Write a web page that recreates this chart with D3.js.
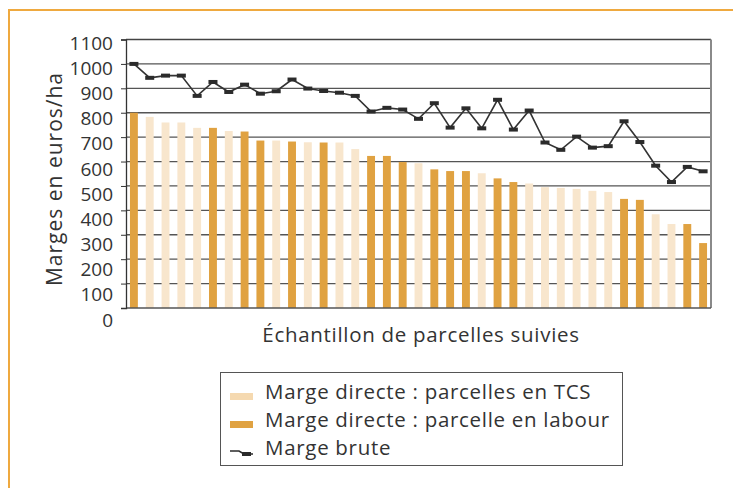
<!DOCTYPE html>
<html>
<head>
<meta charset="utf-8">
<script src="https://cdn.jsdelivr.net/npm/d3@7"></script>
<style>
    body {margin: 0; background: #fff}
    text {font-family: "Open Sans", Lato, sans-serif; fill: #333}
</style>
</head>
<body>
<svg id="chart" width="733" height="488"></svg>
<script>
// 37 parcelles, triées par marge directe décroissante
const parcelles = d3.range(1, 38)

const modes = ['labour', 'TCS', 'TCS', 'TCS', 'TCS', 'labour', 'TCS', 'labour', 'labour', 'TCS',
    'labour', 'TCS', 'labour', 'TCS', 'TCS', 'labour', 'labour', 'labour', 'TCS', 'labour',
    'labour', 'labour', 'TCS', 'labour', 'labour', 'TCS', 'TCS', 'TCS', 'TCS', 'TCS',
    'TCS', 'labour', 'labour', 'TCS', 'TCS', 'labour', 'labour']

const margeDirecte = [800, 783, 760, 760, 738, 738, 725, 723, 686, 686,
    682, 679, 678, 678, 651, 623, 623, 598, 593, 568,
    561, 561, 552, 531, 516, 510, 495, 492, 488, 480,
    475, 447, 443, 384, 344, 344, 266]

const margeBrute = [1000, 943, 952, 952, 869, 926, 885, 915, 878, 888,
    936, 899, 889, 882, 869, 805, 820, 813, 775, 839,
    739, 818, 736, 853, 731, 809, 678, 648, 702, 657,
    663, 765, 680, 583, 516, 578, 560]

const yTicks = d3.range(0, 1101, 100)

const legendItems = [
    {label: 'Marge directe : parcelles en TCS', kind: 'TCS'},
    {label: 'Marge directe : parcelle en labour', kind: 'labour'},
    {label: 'Marge brute', kind: 'line'}
]

const colors = {TCS: '#f8e6cd', labour: '#e0a241'}
const legendColors = {TCS: '#f5d9b0', labour: '#e0a241'}

const svg = d3.select('#chart')

// cadre orange
svg.append('path')
    .attr('d', 'M9,488V10H733')
    .attr('fill', 'none')
    .attr('stroke', '#efa93f')
    .attr('stroke-width', 2)

const x = d3.scaleBand()
    .domain(parcelles)
    .range([126, 711])
    .paddingInner(0.5)
    .paddingOuter(0.25)

const y = d3.scaleLinear()
    .domain([0, 1100])
    .range([308, 39.5])

// the tick labels sit on a slightly wider spacing than the grid
const yLab = d3.scaleLinear()
    .domain([0, 1100])
    .range([320, 43])

const grid = svg.append('g')
grid.selectAll('line')
    .data(yTicks.filter(d => d > 0))
    .join('line')
    .attr('x1', 126)
    .attr('x2', 711)
    .attr('y1', d => y(d))
    .attr('y2', d => y(d))
    .attr('stroke', d => d === 1100 ? '#444' : '#555')
    .attr('stroke-width', 1.3)

svg.append('g')
    .selectAll('rect')
    .data(parcelles)
    .join('rect')
    .attr('x', d => x(d))
    .attr('width', x.bandwidth())
    .attr('y', (d, i) => y(margeDirecte[i]))
    .attr('height', (d, i) => y(0) - y(margeDirecte[i]))
    .attr('fill', (d, i) => colors[modes[i]])

// axes
svg.append('line')
    .attr('x1', 711).attr('x2', 711)
    .attr('y1', y(1100)).attr('y2', y(0))
    .attr('stroke', '#8a8a8a')
    .attr('stroke-width', 2)

svg.append('line')
    .attr('x1', 126).attr('x2', 711)
    .attr('y1', y(0)).attr('y2', y(0))
    .attr('stroke', '#555')
    .attr('stroke-width', 1.3)

const yAxis = svg.append('g')
    .attr('transform', 'translate(126,0)')
    .call(d3.axisLeft(y).tickValues(yTicks).tickSize(5).tickFormat(''))
yAxis.select('.domain').attr('stroke', '#333').attr('stroke-width', 1.3)
yAxis.selectAll('.tick line').attr('stroke', '#333')

svg.append('g')
    .selectAll('text')
    .data(yTicks)
    .join('text')
    .attr('x', 113)
    .attr('y', d => yLab(d))
    .attr('dy', '0.35em')
    .attr('text-anchor', 'end')
    .attr('font-size', 19)
    .text(d => d)

svg.append('text')
    .attr('transform', 'translate(55,179) rotate(-90)')
    .attr('dy', '0.35em')
    .attr('text-anchor', 'middle')
    .attr('font-size', 21)
    .attr('letter-spacing', 1)
    .text('Marges en euros/ha')

svg.append('text')
    .attr('x', 421)
    .attr('y', 335)
    .attr('dy', '0.35em')
    .attr('text-anchor', 'middle')
    .attr('font-size', 20.5)
    .attr('letter-spacing', 0.7)
    .text('Échantillon de parcelles suivies')

// marge brute
const cx = d => x(d) + x.bandwidth() / 2

const line = d3.line()
    .x(cx)
    .y((d, i) => y(margeBrute[i]))

svg.append('path')
    .datum(parcelles)
    .attr('d', line)
    .attr('fill', 'none')
    .attr('stroke', '#333')
    .attr('stroke-width', 1.6)

svg.append('g')
    .selectAll('rect')
    .data(parcelles)
    .join('rect')
    .attr('x', d => cx(d) - 4.5)
    .attr('y', (d, i) => y(margeBrute[i]) - 2)
    .attr('width', 9)
    .attr('height', 4)
    .attr('fill', '#2b2b2b')

// légende
const legend = svg.append('g')
legend.append('rect')
    .attr('x', 220.5).attr('y', 372.5)
    .attr('width', 402).attr('height', 93)
    .attr('fill', '#fff')
    .attr('stroke', '#555')
    .attr('stroke-width', 1)

const row = legend.selectAll('.row')
    .data(legendItems)
    .join('g')
    .attr('class', 'row')
    .attr('transform', (d, i) => `translate(230,${392 + i * 28})`)

row.filter(d => d.kind !== 'line')
    .append('rect')
    .attr('x', 0).attr('y', 1)
    .attr('width', 23).attr('height', 7)
    .attr('fill', d => legendColors[d.kind])

row.filter(d => d.kind === 'line')
    .append('path')
    .attr('d', 'M0,3L9,3L14,6L23,6')
    .attr('fill', 'none')
    .attr('stroke', '#2b2b2b')
    .attr('stroke-width', 1.6)
row.filter(d => d.kind === 'line')
    .append('rect')
    .attr('x', 12).attr('y', 4)
    .attr('width', 9).attr('height', 4)
    .attr('fill', '#2b2b2b')

row.append('text')
    .attr('x', 35)
    .attr('y', 0)
    .attr('dy', '0.35em')
    .attr('font-size', 20.5)
    .attr('letter-spacing', 0.7)
    .text(d => d.label)
</script>
</body>
</html>
